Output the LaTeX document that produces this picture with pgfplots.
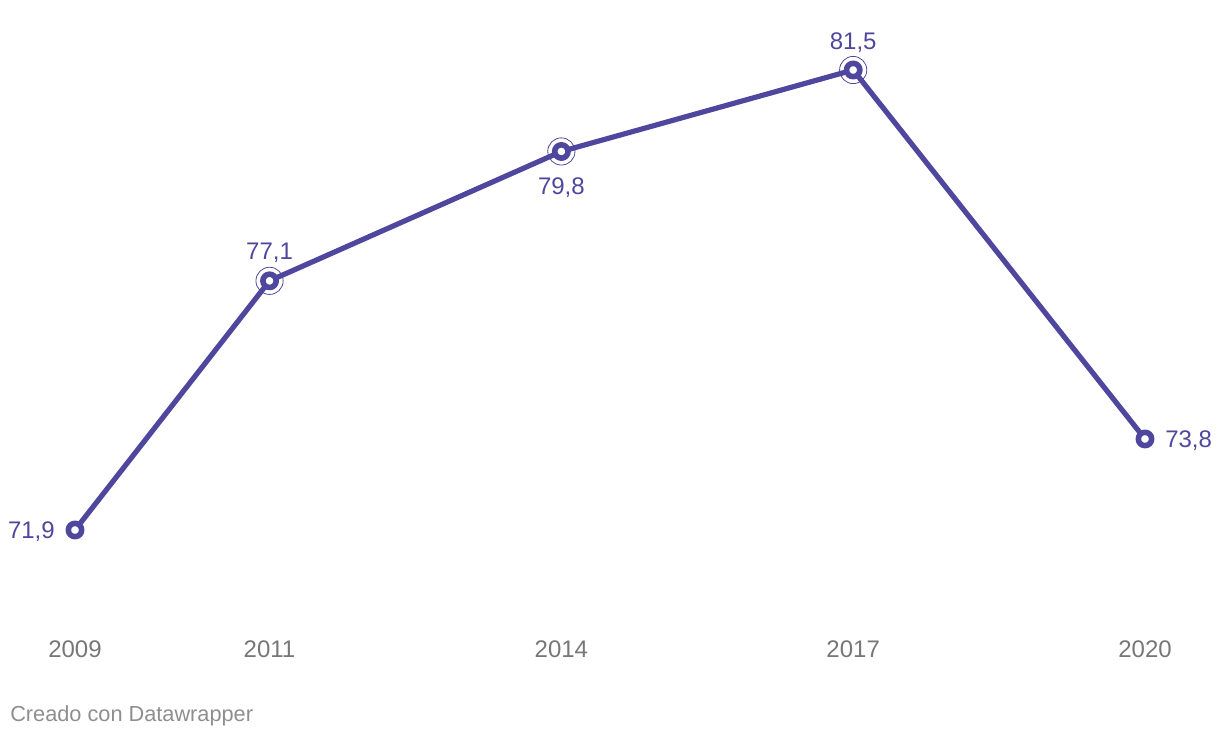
\documentclass[border=0pt]{standalone}
\usepackage{pgfplots}
\pgfplotsset{compat=1.18}
\usepackage{fontspec}
\setmainfont{Liberation Sans}
\definecolor{lp}{HTML}{4F479E}
\definecolor{tk}{HTML}{777777}
\definecolor{cr}{HTML}{8E8E8E}
\begin{document}
\begin{tikzpicture}
\useasboundingbox (0,0) rectangle (915pt,-553.5pt);
\begin{axis}[
  at={(56.25pt,-397.5pt)}, anchor=south west,
  scale only axis, width=802.5pt, height=345pt,
  xmin=2009, xmax=2020, ymin=71.9, ymax=81.5,
  axis line style={draw=none},
  ytick=\empty,
  xtick={2009,2011,2014,2017,2020},
  xticklabels={2009,2011,2014,2017,2020},
  major tick length=0pt,
  xticklabel style={anchor=center, yshift=-89.3pt, font=\fontsize{18pt}{21pt}\selectfont, text=tk},
  clip=false
]
\addplot[only marks, mark=o, mark size=10.2pt, mark options={draw=lp, line width=0.6pt, fill=none}]
  coordinates {(2011,77.1) (2014,79.8) (2017,81.5)};
\addplot[lp, line width=3.9pt, line join=round, mark=*, mark size=5pt,
  mark options={fill=white, draw=lp, line width=4.2pt}]
  coordinates {(2009,71.9) (2011,77.1) (2014,79.8) (2017,81.5) (2020,73.8)};
\tikzset{lab/.style={text=lp, font=\fontsize{18pt}{21pt}\selectfont, inner sep=0pt}}
\node[lab, anchor=east, xshift=-15pt, yshift=-1.5pt] at (axis cs:2009,71.9) {71,9};
\node[lab, anchor=center, yshift=21pt] at (axis cs:2011,77.1) {77,1};
\node[lab, anchor=center, yshift=-27.2pt] at (axis cs:2014,79.8) {79,8};
\node[lab, anchor=center, yshift=20.8pt] at (axis cs:2017,81.5) {81,5};
\node[lab, anchor=west, xshift=15pt, yshift=-1.5pt] at (axis cs:2020,73.8) {73,8};
\end{axis}
\node[anchor=west, inner sep=0pt, text=cr, font=\fontsize{16.3pt}{19pt}\selectfont] at (7.5pt,-537pt) {Creado con Datawrapper};
\end{tikzpicture}
\end{document}
